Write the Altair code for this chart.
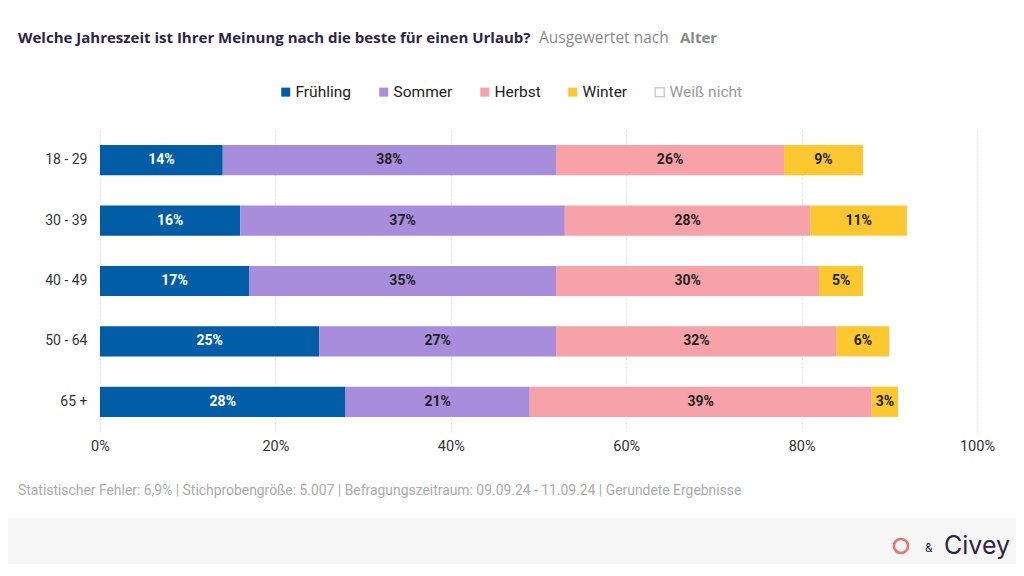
import altair as alt
import pandas as pd

groups = ["18 - 29", "30 - 39", "40 - 49", "50 - 64", "65 +"]
seasons = ["Frühling", "Sommer", "Herbst", "Winter", "Weiß nicht"]
colors = ["#005da6", "#a78ddb", "#f7a2a8", "#fdc82f", "#ffffff"]
fruehling = [14, 16, 17, 25, 28]
sommer = [38, 37, 35, 27, 21]
herbst = [26, 28, 30, 32, 39]
winter = [9, 11, 5, 6, 3]
x_ticks = [0, 20, 40, 60, 80, 100]

title_main = "Welche Jahreszeit ist Ihrer Meinung nach die beste für einen Urlaub?"
title_sub = "Ausgewertet nach"
title_key = "Alter"
footer = ("Statistischer Fehler: 6,9% | Stichprobengröße: 5.007 | "
          "Befragungszeitraum: 09.09.24 - 11.09.24 | Gerundete Ergebnisse")

rows = []
for k, vals in enumerate([fruehling, sommer, herbst, winter]):
    for g, v in zip(groups, vals):
        rows.append({"group": g, "season": seasons[k], "value": v, "order": k})
df = pd.DataFrame(rows)

W, H = 877, 302

base = (
    alt.Chart(df)
    .transform_stack(stack="value", groupby=["group"], as_=["x0", "x1"],
                     sort=[alt.SortField("order", order="ascending")])
    .transform_calculate(mid="(datum.x0 + datum.x1) / 2", label="datum.value + '%'")
)

y_enc = alt.Y("group:N", sort=groups,
              scale=alt.Scale(paddingInner=0.5, paddingOuter=0.25),
              axis=alt.Axis(title=None, domain=False, ticks=False, labelPadding=13,
                            labelFont="Roboto", labelFontSize=14, labelColor="#333333"))

bars = base.mark_bar().encode(
    x=alt.X("x0:Q", scale=alt.Scale(domain=[0, 100], nice=False),
            axis=alt.Axis(values=x_ticks, labelExpr="datum.value + '%'", title=None,
                          domain=False, ticks=False, grid=True, gridDash=[2, 2],
                          gridColor="#e0e0e0", labelPadding=7, labelFont="Roboto",
                          labelFlush=False,
                          labelFontSize=14.5, labelColor="#333333")),
    x2="x1:Q",
    y=y_enc,
    color=alt.Color("season:N", scale=alt.Scale(domain=seasons, range=colors),
                    legend=alt.Legend(orient="none", legendX=178, legendY=-46,
                                      direction="horizontal", title=None,
                                      symbolType="square", symbolSize=81,
                                      symbolStrokeWidth=1.5,
                                      symbolStrokeColor=alt.ExprRef("datum.label == 'Weiß nicht' ? '#c8cedb' : 'transparent'"),
                                      labelColor=alt.ExprRef("datum.label == 'Weiß nicht' ? '#9a9a9a' : '#222222'"),
                                      labelFont="Roboto", labelFontSize=15.5,
                                      labelOffset=2, columnPadding=24)),
)

texts = base.mark_text(font="Roboto", fontSize=14, fontWeight="bold").encode(
    x="mid:Q",
    y=alt.Y("group:N", sort=groups),
    text="label:N",
    color=alt.condition(alt.datum.season == "Frühling", alt.value("white"), alt.value("#222222")),
)

ann = alt.Chart(pd.DataFrame({"a": [0]}))

band = ann.mark_rect(color="#f6f6f7").encode(
    x=alt.value(-92), x2=alt.value(916), y=alt.value(388), y2=alt.value(440))

t1 = ann.mark_text(text=title_main, align="left", baseline="middle", font="Open Sans",
                   fontSize=15, fontWeight="bold", color="#2d2446").encode(
    x=alt.value(-82), y=alt.value(-92))
t2 = ann.mark_text(text=title_sub, align="left", baseline="middle", font="Open Sans",
                   fontSize=15.5, color="#8a8a8a").encode(
    x=alt.value(439), y=alt.value(-92))
t3 = ann.mark_text(text=title_key, align="left", baseline="middle", font="Open Sans",
                   fontSize=15, fontWeight="bold", color="#8a8a8a").encode(
    x=alt.value(580), y=alt.value(-92))

foot = ann.mark_text(text=footer, align="left", baseline="middle", font="Roboto",
                     fontSize=13.9, color="#ababab").encode(
    x=alt.value(-82), y=alt.value(361))

logo_icon = ann.mark_point(shape="circle", filled=False, color="#e0413a", size=200,
                           strokeWidth=2.5).encode(x=alt.value(801), y=alt.value(416))
logo_amp = ann.mark_text(text="&", align="left", baseline="middle", font="Roboto",
                         fontSize=12, color="#2d2446").encode(x=alt.value(825), y=alt.value(418))
logo_civey = ann.mark_text(text="Civey", align="left", baseline="middle", font="Inter",
                           fontSize=25, color="#2d2446").encode(x=alt.value(844), y=alt.value(416))

chart = alt.layer(band, bars, texts, t1, t2, t3, foot, logo_icon, logo_amp, logo_civey).properties(
    width=W, height=H,
    autosize=alt.AutoSizeParams(type="none"),
    padding={"left": 92, "top": 122, "right": 39, "bottom": 132},
    background="white",
).configure_view(stroke=None)

chart.save("out.html", embed_options={"renderer": "svg", "actions": False})
